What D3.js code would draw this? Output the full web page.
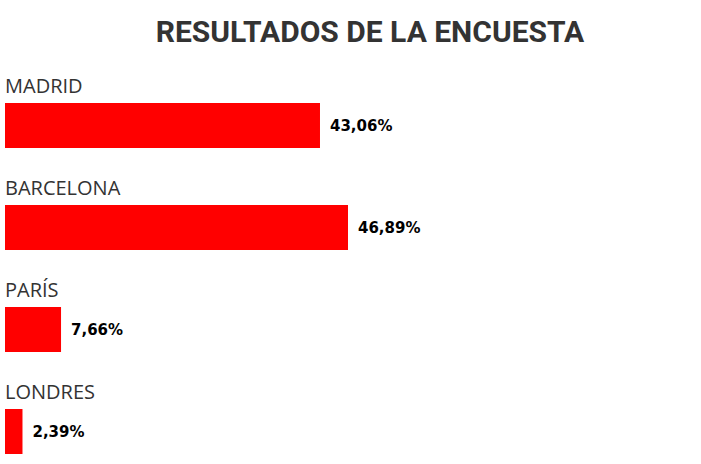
<!DOCTYPE html>
<html><head><meta charset="utf-8">
<script src="https://cdn.jsdelivr.net/npm/d3@7/dist/d3.min.js"></script>
<style>body{margin:0;background:#fff}</style></head>
<body><svg id="c" width="701" height="464"></svg>
<script>
const categories = ["MADRID","BARCELONA","PARÍS","LONDRES"];
const values = [43.06, 46.89, 7.66, 2.39];
const labels = ["43,06%","46,89%","7,66%","2,39%"];

const svg = d3.select("#c");
svg.append("text").attr("x",370).attr("y",42).attr("text-anchor","middle")
  .attr("font-family","Roboto").attr("font-weight","bold").attr("font-size",30)
  .attr("fill","#333").text("RESULTADOS DE LA ENCUESTA");

const x = d3.scaleLinear().domain([0,100]).range([5,736.5]);
const y = d3.scaleBand().domain(categories).range([70,478]).paddingInner(0);

const g = svg.selectAll("g.row").data(categories).enter().append("g");
g.append("text").attr("x",5).attr("y",c=>y(c)+23)
  .attr("font-family","Open Sans").attr("font-size",20).attr("fill","#333").text(c=>c);
g.append("rect").attr("x",x(0)).attr("y",c=>y(c)+33).attr("height",45)
  .attr("width",(c,i)=>x(values[i])-x(0)).attr("fill","#ff0000");
g.append("text").attr("x",(c,i)=>x(values[i])+10).attr("y",c=>y(c)+33+22.5)
  .attr("dy","0.35em").attr("font-family","DejaVu Sans").attr("font-weight","bold")
  .attr("font-size",15).attr("fill","#000").text((c,i)=>labels[i]);
</script></body></html>
